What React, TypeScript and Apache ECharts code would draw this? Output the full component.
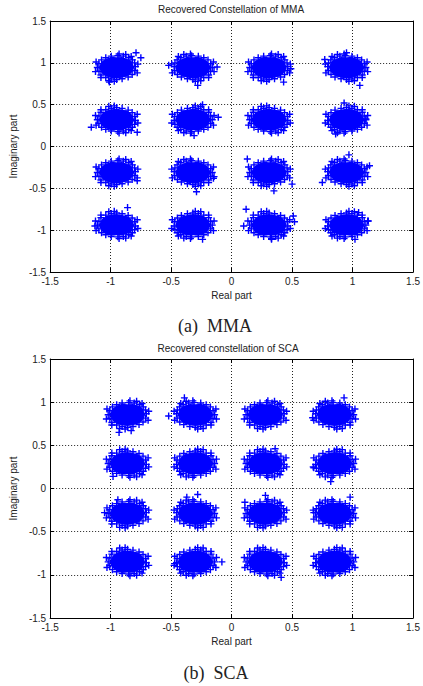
import React, { useEffect, useRef } from "react";
import * as echarts from "echarts";

// Cluster centres
const MMA_X = [-0.95, -0.32, 0.31, 0.95];
const MMA_Y = [0.945, 0.32, -0.31, -0.94];
const SCA_X = [-0.86, -0.3, 0.28, 0.85];
const SCA_Y = [0.855, 0.29, -0.29, -0.85];

// Solid core outline of one cluster (offsets in data units)
const CORE_OUTLINE = [
  [0.145, 0], [0.135, 0.04], [0.122, 0.08], [0.085, 0.105], [0.045, 0.125],
  [0, 0.122], [-0.047, 0.128], [-0.085, 0.105], [-0.118, 0.078], [-0.135, 0.04],
  [-0.148, 0], [-0.134, -0.042], [-0.117, -0.08], [-0.086, -0.108], [-0.045, -0.126],
  [0, -0.132], [0.044, -0.122], [0.088, -0.106], [0.116, -0.076], [0.136, -0.04],
];

// Star markers along the fuzzy rim of a cluster (offsets in data units)
const RIM_STARS = [
  [0.155, 0.01], [0.148, 0.055], [0.13, 0.09], [0.1, 0.115], [0.055, 0.135], [0.01, 0.14],
  [-0.045, 0.135], [-0.09, 0.115], [-0.125, 0.09], [-0.147, 0.045], [-0.16, 0.0], [-0.146, -0.045],
  [-0.13, -0.09], [-0.09, -0.12], [-0.045, -0.138], [0.0, -0.145], [0.045, -0.136], [0.095, -0.115],
  [0.128, -0.085], [0.15, -0.04], [0.175, 0.04], [-0.175, -0.05], [0.075, 0.155], [-0.065, -0.16],
  [0.17, -0.065], [-0.17, 0.065], [0.02, 0.16], [-0.02, -0.165], [0.12, 0.13], [-0.13, -0.12],
];

// Isolated outlier points
const MMA_OUTLIERS = [
  [-0.79, 1.12], [-0.75, 1.06], [-1.01, 0.77], [-0.12, 0.95], [-0.52, 0.97], [-0.28, 0.73],
  [0.43, 0.77], [0.49, 0.93], [0.77, 1.04], [1.06, 0.73], [0.95, 1.12],
  [-1.16, 0.23], [-0.78, 0.17], [-0.11, 0.35], [-0.31, 0.13], [-0.24, 0.5], [1.11, 0.33],
  [0.86, 0.15], [0.93, 0.52],
  [-0.78, -0.41], [-0.15, -0.38], [-0.29, -0.54], [0.13, -0.15], [0.35, -0.53], [0.5, -0.45],
  [0.97, -0.1], [1.14, -0.23], [0.75, -0.43],
  [-0.86, -0.73], [-1.13, -0.95], [-0.24, -1.11], [0.12, -0.75], [0.51, -0.83], [0.52, -0.9],
  [0.33, -1.11], [0.1, -0.95], [1.02, -1.11], [1.13, -0.89], [1.05, -0.79],
];
const SCA_OUTLIERS = [
  [-0.93, 0.65], [-0.83, 0.67], [-0.39, 1.05], [-0.52, 0.84], [0.93, 1.05], [0.67, 0.82],
  [-0.98, 0.14], [0.68, 0.24], [0.82, 0.08], [0.36, 0.46],
  [-1.05, -0.28], [-0.94, -0.13], [-0.28, -0.07], [-0.37, -0.1], [0.28, -0.08], [0.11, -0.16],
  [0.98, -0.1], [0.68, -0.28], [0.41, -1.03], [-0.08, -0.85], [-0.47, -0.87],
];

const TICK_MIN = -1.5;
const TICK_MAX = 1.5;
const TICK_STEP = 0.5;

const STAR =
  "path://M-1,-0.2 L-0.2,-0.2 L-0.2,-1 L0.2,-1 L0.2,-0.2 L1,-0.2 L1,0.2 L0.2,0.2 L0.2,1 L-0.2,1 L-0.2,0.2 L-1,0.2 Z";

const BLUE = "#0000ff";

function centres(xs: number[], ys: number[]) {
  const out: number[][] = [];
  ys.forEach((y, r) => xs.forEach((x, c) => out.push([x, y, r * 4 + c])));
  return out;
}

function rimPoints(xs: number[], ys: number[]) {
  const out: number[][] = [];
  centres(xs, ys).forEach(([cx, cy, i]) => {
    const sx = i % 2 === 0 ? 1 : -1;
    const sy = Math.floor(i / 4) % 2 === 0 ? 1 : -1;
    RIM_STARS.forEach(([dx, dy]) => out.push([cx + sx * dx, cy + sy * dy]));
  });
  return out;
}

const labelFont = { fontFamily: "Liberation Sans, Arial, sans-serif", fontSize: 10, color: "#222" };
const gridLine = { show: true, lineStyle: { color: "#222", type: [1, 2], width: 1 } };
const tick = { show: true, inside: true, length: 4, lineStyle: { color: "#000" } };
const axLine = { show: true, onZero: false, lineStyle: { color: "#000", width: 1 } };

function axesFor(gridIndex: number) {
  const common = {
    gridIndex,
    type: "value",
    min: TICK_MIN,
    max: TICK_MAX,
    interval: TICK_STEP,
  };
  const xBottom = {
    ...common,
    position: "bottom",
    name: "Real part",
    nameLocation: "middle",
    nameGap: 18,
    nameTextStyle: { ...labelFont },
    axisLine: axLine,
    axisTick: tick,
    axisLabel: { ...labelFont, margin: 4, showMinLabel: true, showMaxLabel: true },
    splitLine: gridLine,
  };
  const xTop = {
    ...common,
    position: "top",
    axisLine: axLine,
    axisTick: tick,
    axisLabel: { show: false },
    splitLine: { show: false },
  };
  const yLeft = {
    ...common,
    position: "left",
    name: "Imaginary part",
    nameLocation: "middle",
    nameGap: 31,
    nameTextStyle: { ...labelFont },
    axisLine: axLine,
    axisTick: tick,
    axisLabel: { ...labelFont, margin: 4, showMinLabel: true, showMaxLabel: true },
    splitLine: gridLine,
  };
  const yRight = {
    ...common,
    position: "right",
    axisLine: axLine,
    axisTick: tick,
    axisLabel: { show: false },
    splitLine: { show: false },
  };
  return { x: [xBottom, xTop], y: [yLeft, yRight] };
}

function clusterSeries(xs: number[], ys: number[], outliers: number[][], axisIndex: number) {
  return [
    {
      type: "custom",
      coordinateSystem: "cartesian2d",
      xAxisIndex: axisIndex,
      yAxisIndex: axisIndex,
      data: centres(xs, ys),
      renderItem: (_p: any, api: any) => {
        const cx = api.value(0);
        const cy = api.value(1);
        const i = api.value(2);
        const sx = i % 2 === 0 ? 1 : -1;
        const sy = Math.floor(i / 4) % 2 === 0 ? 1 : -1;
        const pts = CORE_OUTLINE.map(([dx, dy]) => api.coord([cx + sx * dx, cy + sy * dy]));
        return { type: "polygon", shape: { points: pts }, style: { fill: BLUE } };
      },
      silent: true,
      z: 3,
    },
    {
      type: "scatter",
      xAxisIndex: axisIndex,
      yAxisIndex: axisIndex,
      data: [...rimPoints(xs, ys), ...outliers],
      symbol: STAR,
      symbolSize: 7,
      itemStyle: { color: BLUE, opacity: 1 },
      emphasis: { disabled: true },
      silent: true,
      z: 4,
    },
  ];
}

export default function App() {
  const ref = useRef<HTMLDivElement>(null);
  useEffect(() => {
    if (!ref.current) return;
    const chart = echarts.init(ref.current, null, { renderer: "svg" });
    const a = axesFor(0);
    const b = axesFor(1);
    chart.setOption({
      animation: false,
      backgroundColor: "#fff",
      grid: [
        { left: 46, top: 21, width: 371, height: 251, show: false },
        { left: 44, top: 359, width: 369, height: 259, show: false },
      ],
      xAxis: [...a.x, ...b.x],
      yAxis: [...a.y, ...b.y],
      series: [
        ...clusterSeries(MMA_X, MMA_Y, MMA_OUTLIERS, 0),
        ...clusterSeries(SCA_X, SCA_Y, SCA_OUTLIERS, 2),
      ],
      graphic: [
        {
          type: "text",
          x: 231,
          y: 9,
          style: {
            text: "Recovered Constellation of MMA",
            font: "10px Liberation Sans, Arial, sans-serif",
            fill: "#222",
            textAlign: "center",
            textVerticalAlign: "middle",
          },
        },
        {
          type: "text",
          x: 228,
          y: 348,
          style: {
            text: "Recovered constellation of SCA",
            font: "10px Liberation Sans, Arial, sans-serif",
            fill: "#222",
            textAlign: "center",
            textVerticalAlign: "middle",
          },
        },
        {
          type: "text",
          x: 215,
          y: 326,
          style: {
            text: "(a)  MMA",
            font: "18px Liberation Serif, Times New Roman, serif",
            fill: "#222",
            textAlign: "center",
            textVerticalAlign: "middle",
          },
        },
        {
          type: "text",
          x: 216,
          y: 673,
          style: {
            text: "(b)  SCA",
            font: "18px Liberation Serif, Times New Roman, serif",
            fill: "#222",
            textAlign: "center",
            textVerticalAlign: "middle",
          },
        },
      ],
    });
    return () => chart.dispose();
  }, []);
  return (
    <div
      ref={ref}
      style={{ position: "absolute", left: 0, top: 0, width: 423, height: 686, background: "#fff" }}
    />
  );
}
